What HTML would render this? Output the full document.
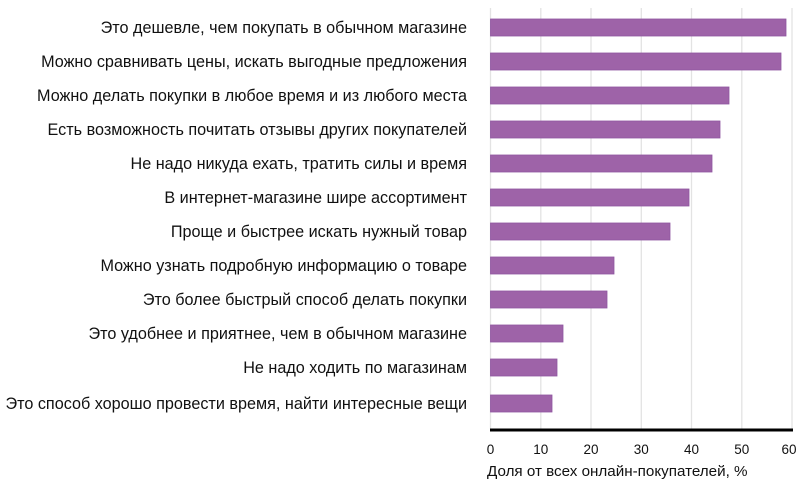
<!DOCTYPE html><html><head><meta charset="utf-8"><style>
body{margin:0;background:#fff;width:799px;height:484px;overflow:hidden}
</style></head><body>
<svg width="799" height="484" xmlns="http://www.w3.org/2000/svg" font-family="Liberation Sans, sans-serif">
<g stroke="#e3e3e3" stroke-width="1.3">
<line x1="490.5" y1="8" x2="490.5" y2="429"/><line x1="540.8" y1="8" x2="540.8" y2="429"/><line x1="591" y1="8" x2="591" y2="429"/><line x1="641.3" y1="8" x2="641.3" y2="429"/><line x1="691.5" y1="8" x2="691.5" y2="429"/><line x1="741.8" y1="8" x2="741.8" y2="429"/><line x1="792" y1="8" x2="792" y2="429"/>
</g>
<g fill="#9e63a8" stroke="#8f55a0" stroke-width="0.8">
<rect x="490.5" y="19" width="295.5" height="17"/>
<rect x="490.5" y="53" width="290.5" height="17"/>
<rect x="490.5" y="87" width="238.5" height="17"/>
<rect x="490.5" y="121" width="229.5" height="17"/>
<rect x="490.5" y="155" width="221.5" height="17"/>
<rect x="490.5" y="189" width="198.5" height="17"/>
<rect x="490.5" y="223" width="179.5" height="17"/>
<rect x="490.5" y="257" width="123.5" height="17"/>
<rect x="490.5" y="291" width="116.5" height="17"/>
<rect x="490.5" y="325" width="72.5" height="17"/>
<rect x="490.5" y="359" width="66.5" height="17"/>
<rect x="490.5" y="395" width="61.5" height="17"/>
</g>
<line x1="490" y1="430" x2="793" y2="430" stroke="#000" stroke-width="3"/>
<g font-size="16.2" fill="#111" text-anchor="end">
<text x="467" y="33">Это дешевле, чем покупать в обычном магазине</text>
<text x="467" y="67">Можно сравнивать цены, искать выгодные предложения</text>
<text x="467" y="101">Можно делать покупки в любое время и из любого места</text>
<text x="467" y="135">Есть возможность почитать отзывы других покупателей</text>
<text x="467" y="169">Не надо никуда ехать, тратить силы и время</text>
<text x="467" y="203">В интернет-магазине шире ассортимент</text>
<text x="467" y="237">Проще и быстрее искать нужный товар</text>
<text x="467" y="271">Можно узнать подробную информацию о товаре</text>
<text x="467" y="305">Это более быстрый способ делать покупки</text>
<text x="467" y="339">Это удобнее и приятнее, чем в обычном магазине</text>
<text x="467" y="373">Не надо ходить по магазинам</text>
<text x="467" y="409">Это способ хорошо провести время, найти интересные вещи</text>
</g>
<g font-size="13.5" fill="#111" text-anchor="middle">
<text x="490.5" y="454">0</text><text x="540.8" y="454">10</text><text x="591" y="454">20</text><text x="641.3" y="454">30</text><text x="691.5" y="454">40</text><text x="741.8" y="454">50</text><text x="789" y="454">60</text>
</g>
<text x="487" y="476" font-size="15.2" fill="#111">Доля от всех онлайн-покупателей, %</text>
</svg>
</body></html>
